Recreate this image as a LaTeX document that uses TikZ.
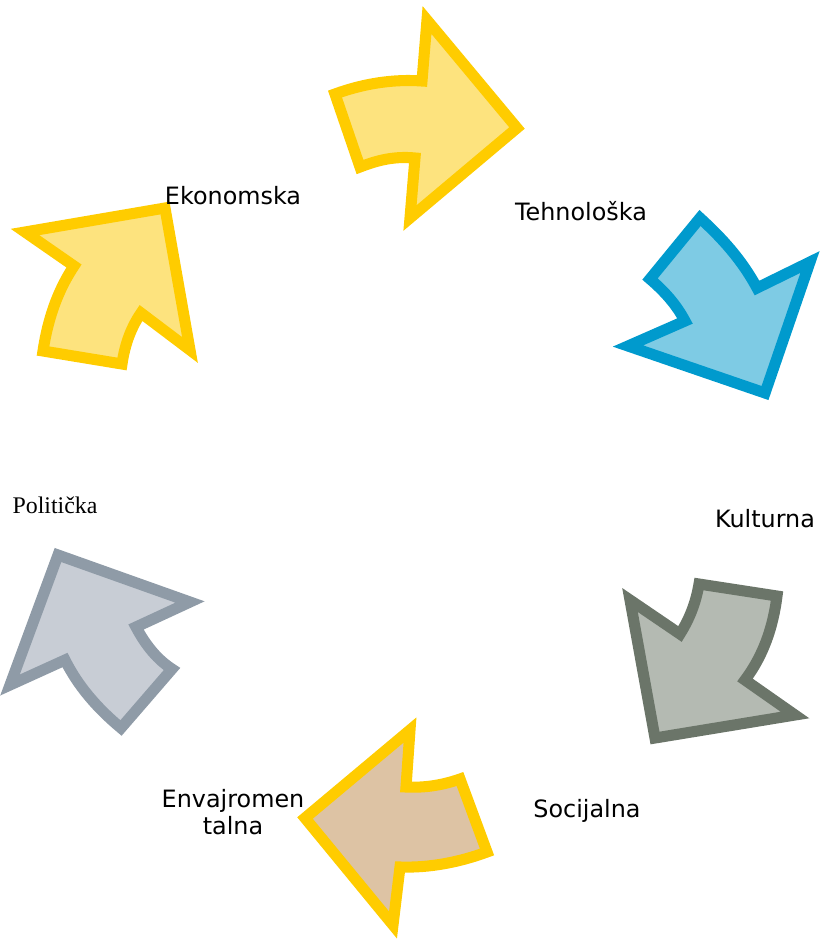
\documentclass[tikz,border=0pt]{standalone}
\usepackage{fontspec}
\setmainfont{DejaVu Sans}
\newfontfamily\serifface{Liberation Serif}
\definecolor{ylwline}{HTML}{FFCC00}
\definecolor{ylwfill}{HTML}{FDE37E}
\definecolor{blueline}{HTML}{009ACD}
\definecolor{bluefill}{HTML}{7ECBE4}
\definecolor{greenline}{HTML}{6B7569}
\definecolor{greenfill}{HTML}{B4BAB2}
\definecolor{slateline}{HTML}{8F9BA7}
\definecolor{slatefill}{HTML}{C8CDD5}
\definecolor{tanfill}{HTML}{DDC3A4}
\tikzset{
  bigarrow/.style={line width=8.3pt, line join=miter},
  lbl/.style={font=\fontsize{17.9}{20.5}\selectfont, align=center, inner sep=0pt}
}
\begin{document}
\begin{tikzpicture}[x=0.75pt,y=-0.75pt]
\useasboundingbox (0,0) rectangle (821,940);
% top arrow (right)
\draw[bigarrow, draw=ylwline, fill=ylwfill]
  (335,94) .. controls (365,83) and (395,79) .. (422,81) -- (427,20) -- (517,128)
  -- (410,218) -- (415,158) .. controls (395,156) and (378,160) .. (360,167) -- cycle;
% Ekonomska arrow
\draw[bigarrow, draw=ylwline, fill=ylwfill]
  (25,232) -- (165,208) -- (190,350) -- (141,313) .. controls (132,326) and (125,343) .. (122,364)
  -- (43,351) .. controls (48,318) and (58,290) .. (74,266) -- cycle;
% Tehnoloska arrow (blue)
\draw[bigarrow, draw=blueline, fill=bluefill]
  (700,218) .. controls (722,238) and (742,260) .. (757,288) -- (810,262) -- (765,393)
  -- (628,346) -- (685,321) .. controls (676,304) and (664,291) .. (650,279) -- cycle;
% Kulturna arrow (grey green)
\draw[bigarrow, draw=greenline, fill=greenfill]
  (699,584) -- (777,596) .. controls (773,628) and (763,656) .. (745,680) -- (795,715)
  -- (655,738) -- (630,600) -- (680,634) .. controls (690,618) and (696,602) .. (699,584) -- cycle;
% Envajromentalna arrow (tan)
\draw[bigarrow, draw=ylwline, fill=tanfill]
  (460,779) -- (487,852) .. controls (460,862) and (430,868) .. (400,867) -- (393,925)
  -- (305,818) -- (410,730) -- (406,787) .. controls (425,788) and (443,785) .. (460,779) -- cycle;
% Politicka arrow (slate)
\draw[bigarrow, draw=slateline, fill=slatefill]
  (58,555) -- (190,602) -- (136,627) .. controls (146,646) and (158,660) .. (172,669)
  -- (121,728) .. controls (97,708) and (78,686) .. (65,660) -- (10,685) -- cycle;
% labels
\node[lbl] (eko) at (233,196) {Ekonomska};
\node[lbl] (teh) at (581,211) {Tehnološka};
\node[lbl] (kul) at (765,519) {Kulturna};
\node[lbl] (soc) at (587,811) {Socijalna};
\node[lbl] (env) at (233,812) {Envajromen\\talna};
\node[lbl, font=\serifface\fontsize{17.9}{20.5}\selectfont] (pol) at (55,505) {Politička};
\end{tikzpicture}
\end{document}
